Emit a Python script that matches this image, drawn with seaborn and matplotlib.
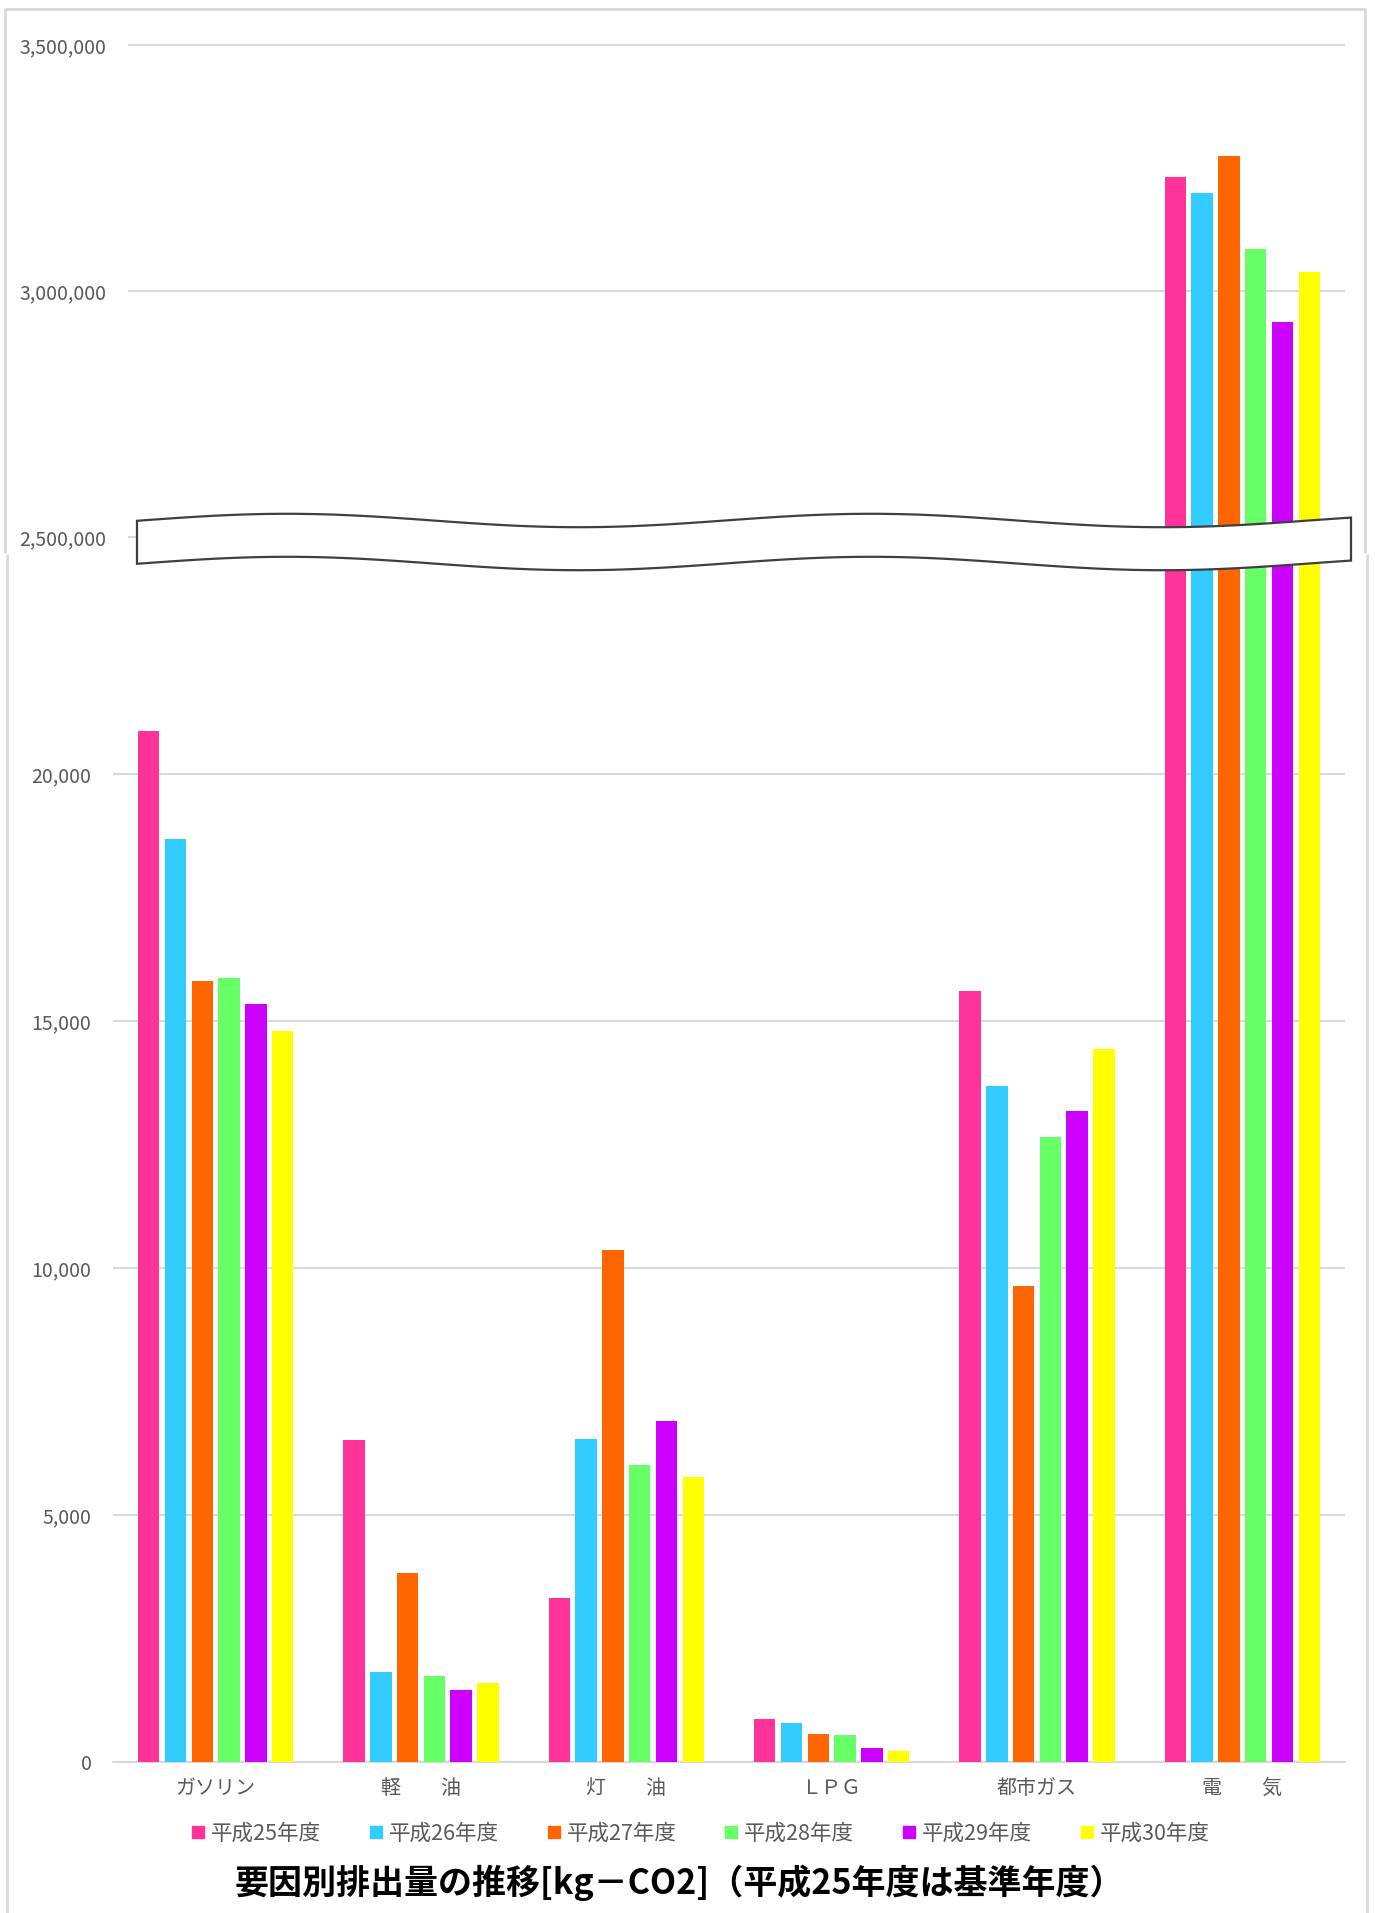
import numpy as np
import pandas as pd
import seaborn as sns
import matplotlib.pyplot as plt
from matplotlib.lines import Line2D
from matplotlib.patches import Polygon
from matplotlib.ticker import FuncFormatter

categories = ['ガソリン', '軽　　油', '灯　　油', 'ＬＰＧ', '都市ガス', '電　　気']
years = ['平成25年度', '平成26年度', '平成27年度', '平成28年度', '平成29年度', '平成30年度']
colors = ['#FF3399', '#33CCFF', '#FF6600', '#66FF66', '#CC00FF', '#FFFF00']

# kg-CO2 per factor, one list per fiscal year
h25 = [20870, 6520, 3320, 880, 15610, 3232500]
h26 = [18680, 1820, 6550, 800, 13680, 3199000]
h27 = [15810, 3830, 10380, 580, 9640, 3274500]
h28 = [15880, 1740, 6010, 560, 12660, 3086000]
h29 = [15340, 1470, 6910, 280, 13180, 2937000]
h30 = [14810, 1600, 5780, 230, 14430, 3038000]

lo_ticks = [0, 5000, 10000, 15000, 20000]
hi_ticks = [2500000, 3000000, 3500000]
title = '要因別排出量の推移[kg－CO2]（平成25年度は基準年度）'

wide = pd.DataFrame({'factor': categories})
for y, vals in zip(years, [h25, h26, h27, h28, h29, h30]):
    wide[y] = vals
df = wide.melt(id_vars='factor', var_name='year', value_name='value')
palette = dict(zip(years, colors))

sns.set_style('white')
plt.rcParams['font.family'] = ['Noto Sans CJK JP', 'DejaVu Sans']

W, H = 1375, 1913
fig = plt.figure(figsize=(W / 100, H / 100), dpi=100)


def px_axes(left, top, right, bottom):
    return fig.add_axes([left / W, 1 - bottom / H, (right - left) / W, (bottom - top) / H])


ax_lo = px_axes(113, 545, 1345, 1762.3)
ax_hi = px_axes(128, 40, 1345, 545)

for ax in (ax_lo, ax_hi):
    sns.barplot(data=df, x='factor', y='value', hue='year', palette=palette,
                width=0.783, gap=0.2, saturation=1, linewidth=0,
                legend=False, ax=ax)
    ax.set_xlabel('')
    ax.set_ylabel('')
    for s in ax.spines.values():
        s.set_visible(False)
    ax.yaxis.grid(True, color='#D9D9D9', lw=1.5)
    ax.set_axisbelow(True)
    ax.tick_params(axis='y', length=0, pad=15.5, labelsize=14, labelcolor='#595959')
    ax.yaxis.set_major_formatter(FuncFormatter(lambda v, p: f'{v:,.0f}'))

ax_lo.set_ylim(0, 24641)
ax_lo.set_yticks(lo_ticks)
ax_lo.set_xlim(-0.5, 5.5)
ax_lo.tick_params(axis='x', length=0, pad=11, labelsize=14.4, labelcolor='#595959')
ax_lo.axhline(0, color='#D9D9D9', lw=1.5, zorder=0.5, clip_on=False)

ax_hi.set_ylim(2484360, 3510160)
ax_hi.set_yticks(hi_ticks)
ax_hi.set_xlim(-0.5 + 15 / 205.33, 5.5)
ax_hi.set_xticks([])

# overlay in pixel coordinates for the break band and chart borders
ov = fig.add_axes([0, 0, 1, 1], zorder=10)
ov.set_xlim(0, W)
ov.set_ylim(H, 0)
ov.axis('off')
ov.patch.set_alpha(0)

xs = np.linspace(137, 1351, 300)
top = 520.5 - 6.7 * np.cos(2 * np.pi * (xs - 287) / 584)
bot = top + 43
pts = np.vstack([np.column_stack([xs, top]), np.column_stack([xs[::-1], bot[::-1]])])
ov.add_patch(Polygon(pts, closed=True, fc='white', ec='#3F3F3F', lw=1.6))

border = dict(color='#D9D9D9', lw=2)
ov.plot([5, 5, 1365, 1365], [552, 9, 9, 552], **border)
ov.plot([7, 7], [555, 1913], **border)
ov.plot([1367, 1367], [555, 1913], **border)

handles = [Line2D([], [], marker='s', ls='none', markersize=8.6, color=c, label=y)
           for y, c in zip(years, colors)]
fig.legend(handles=handles, loc='center', bbox_to_anchor=(700 / W, 1 - 1834 / H),
           ncol=6, frameon=False, fontsize=15.5, handlelength=0.7,
           handletextpad=0.25, columnspacing=2.2, labelcolor='#595959')

fig.text(679 / W, 1 - 1883 / H, title, ha='center', va='center',
         fontsize=24.5, fontweight='bold', color='black')

fig.savefig('out.png', dpi=100)
